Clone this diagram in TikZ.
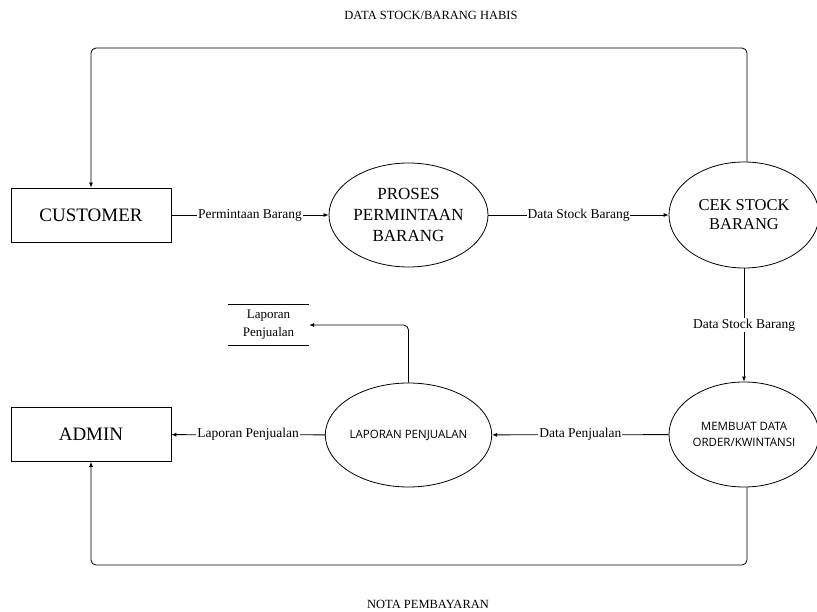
\documentclass[tikz,border=0pt]{standalone}
\usepackage{fontspec}
\setmainfont{Liberation Serif}
\setsansfont{Open Sans}
\usetikzlibrary{shapes.geometric,arrows.meta}

\tikzset{
  entity/.style={draw, line width=0.8pt, minimum width=160pt, minimum height=54pt, inner sep=0pt, font=\fontsize{19}{22}\selectfont},
  proc/.style={draw, ellipse, line width=0.8pt, inner sep=0pt, align=center},
  flow/.style={draw, line width=0.8pt, -{Latex[length=5pt,width=4pt]}},
  lbl/.style={fill=white, inner sep=1pt, font=\fontsize{13.5}{16}\selectfont},
  title/.style={font=\fontsize{12.5}{15}\selectfont}
}

\begin{document}
\begin{tikzpicture}[x=1pt, y=-1pt]
  \useasboundingbox (0,0) rectangle (817,612);

  % entities
  \node[entity] (customer) at (91,215) {CUSTOMER};
  \node[entity] (admin) at (91,434.5) {ADMIN};

  % processes
  \node[proc, minimum width=159pt, minimum height=104pt, font=\fontsize{17}{21}\selectfont] (proses) at (408.5,215) {PROSES\\PERMINTAAN\\BARANG};
  \node[proc, minimum width=150pt, minimum height=106pt, font=\fontsize{16.5}{19}\selectfont] (cek) at (744,215) {CEK STOCK\\BARANG};
  \node[proc, minimum width=159pt, minimum height=104pt, font=\sffamily\fontsize{11.5}{14}\selectfont] (laporan) at (408.5,435) {LAPORAN PENJUALAN};
  \node[proc, minimum width=150pt, minimum height=105pt, font=\sffamily\fontsize{11.5}{16.5}\selectfont] (membuat) at (744,434.5) {MEMBUAT DATA\\ORDER/KWINTANSI};

  % data store
  \node[minimum width=81pt, minimum height=40pt, inner sep=0pt, align=center, font=\fontsize{13}{18}\selectfont] (store) at (268.5,325) {Laporan\\Penjualan};
  \draw[line width=0.8pt] (store.north west) -- (store.north east);
  \draw[line width=0.8pt] (store.south west) -- (store.south east);

  % flows
  \draw[flow] (customer) -- node[lbl] {Permintaan Barang} (proses);
  \draw[flow] (proses) -- node[lbl] {Data Stock Barang} (cek);
  \draw[flow] (cek) -- node[lbl] {Data Stock Barang} (membuat);
  \draw[flow] (membuat) -- node[lbl] {Data Penjualan} (laporan);
  \draw[flow] (laporan) -- node[lbl] {Laporan Penjualan} (admin);
  \draw[flow, rounded corners=5pt] (laporan.north) |- (store.east);

  % loops
  \coordinate (topr) at (747,48);
  \coordinate (topl) at (91,48);
  \coordinate (botr) at (747,565);
  \coordinate (botl) at (91,565);
  \draw[flow, rounded corners=5pt] (cek.north -| topr) -- (topr) -- (topl) -- (customer.north);
  \draw[flow, rounded corners=5pt] (membuat.south -| botr) -- (botr) -- (botl) -- (admin.south);

  \node[title] (habis) at (431,15) {DATA STOCK/BARANG HABIS};
  \node[title] (nota) at (428,604) {NOTA PEMBAYARAN};
\end{tikzpicture}
\end{document}
